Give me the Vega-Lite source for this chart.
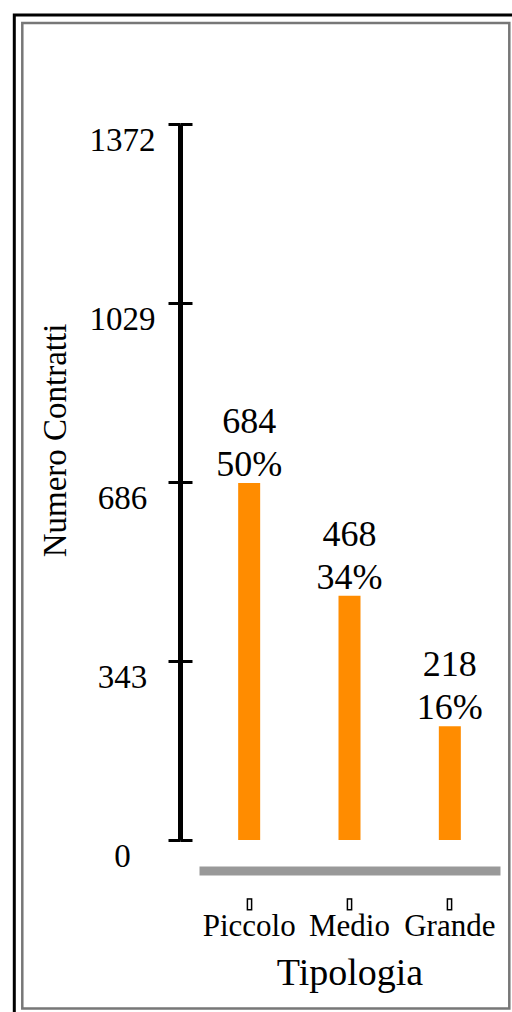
{
  "$schema": "https://vega.github.io/schema/vega-lite/v6.json",
  "width": 301,
  "height": 716,
  "autosize": {"type": "none"},
  "padding": {"left": 199, "top": 124, "right": 12, "bottom": 172},
  "background": "white",
  "config": {
    "view": {"stroke": null},
    "font": "Liberation Serif, Times New Roman, DejaVu Serif, serif",
    "legend": {"strokeWidth": 3}
  },
  "data": {
    "values": [
      {"Tipologia": "Piccolo", "Numero": 684, "Quota": "50%"},
      {"Tipologia": "Medio", "Numero": 468, "Quota": "34%"},
      {"Tipologia": "Grande", "Numero": 218, "Quota": "16%"}
    ]
  },
  "layer": [
    {
      "mark": {"type": "bar", "size": 22, "fill": "#FF8C00"},
      "encoding": {
        "x": {
          "field": "Tipologia", "type": "nominal", "sort": null,
          "scale": {"paddingInner": 0, "paddingOuter": 0},
          "axis": {
            "orient": "bottom", "offset": 30.5, "domainColor": "#999999", "domainWidth": 9,
            "domainCap": "butt", "ticks": false, "labels": false, "title": null, "grid": false
          }
        },
        "y": {
          "field": "Numero", "type": "quantitative",
          "scale": {"domain": [0, 1372], "nice": false},
          "axis": {
            "orient": "left", "values": [0, 343, 686, 1029, 1372], "format": "d", "offset": 19,
            "domainColor": "black", "domainWidth": 5, "domainCap": "butt",
            "tickColor": "black", "tickSize": 12, "tickWidth": 3,
            "labelFont": "Liberation Serif, Times New Roman, DejaVu Serif, serif", "labelFontSize": 33, "labelColor": "black",
            "labelAlign": "center", "labelBaseline": "middle", "labelPadding": 46, "labelOffset": 16,
            "labelFlush": false, "labelOverlap": false, "grid": false,
            "title": "Numero Contratti", "titleFont": "Liberation Serif, Times New Roman, DejaVu Serif, serif", "titleFontSize": 33,
            "titleFontWeight": "normal", "titleColor": "black", "titleAngle": -90,
            "titleX": -115, "titleY": 316, "titleAlign": "center", "titleBaseline": "alphabetic"
          }
        },
        "stroke": {
          "field": "Numero", "type": "quantitative",
          "scale": {"range": ["transparent", "transparent"]},
          "legend": {
            "orient": "none", "legendX": -184.7, "legendY": -109, "direction": "vertical",
            "title": null, "gradientLength": 985.5, "gradientThickness": 487,
            "gradientStrokeColor": "#777777", "gradientStrokeWidth": 2.5,
            "labelExpr": "''", "labelFontSize": 1, "strokeColor": "black", "padding": 8, "tickCount": 2
          }
        }
      }
    },
    {
      "mark": {"type": "text", "dy": -50, "baseline": "alphabetic", "fontSize": 36, "font": "Liberation Serif, Times New Roman, DejaVu Serif, serif", "color": "black"},
      "encoding": {
        "x": {
          "field": "Tipologia", "type": "nominal", "sort": null,
          "scale": {"paddingInner": 0, "paddingOuter": 0},
          "axis": {
            "orient": "bottom", "offset": 57.7, "domain": false,
            "tickColor": "black", "tickSize": 12.3, "tickWidth": 5.7,
            "labelFont": "Liberation Serif, Times New Roman, DejaVu Serif, serif", "labelFontSize": 31, "labelColor": "black",
            "labelAngle": 0, "labelBaseline": "top", "labelPadding": 1, "labelAlign": "center",
            "labelOverlap": false, "grid": false,
            "title": "Tipologia", "titleFont": "Liberation Serif, Times New Roman, DejaVu Serif, serif", "titleFontSize": 38,
            "titleFontWeight": "normal", "titleColor": "black", "titlePadding": 13
          }
        },
        "y": {
          "field": "Numero", "type": "quantitative",
          "scale": {"domain": [0, 1372], "nice": false},
          "axis": {
            "orient": "left", "values": [0, 343, 686, 1029, 1372], "offset": 19,
            "domain": false, "labels": false, "tickSize": -12, "tickWidth": 3,
            "tickColor": "black", "title": null, "grid": false
          }
        },
        "text": {"field": "Numero", "type": "quantitative", "format": "d"}
      }
    },
    {
      "mark": {"type": "text", "dy": -7, "baseline": "alphabetic", "fontSize": 36, "font": "Liberation Serif, Times New Roman, DejaVu Serif, serif", "color": "black"},
      "encoding": {
        "x": {
          "field": "Tipologia", "type": "nominal", "sort": null,
          "scale": {"paddingInner": 0, "paddingOuter": 0},
          "axis": {
            "orient": "bottom", "offset": 59.2, "domain": false, "labels": false,
            "tickColor": "white", "tickSize": 9.3, "tickWidth": 2.7, "title": null, "grid": false
          }
        },
        "y": {
          "field": "Numero", "type": "quantitative",
          "scale": {"domain": [0, 1372], "nice": false},
          "axis": null
        },
        "text": {"field": "Quota", "type": "nominal"}
      }
    }
  ],
  "resolve": {"axis": {"x": "independent", "y": "independent"}}
}
